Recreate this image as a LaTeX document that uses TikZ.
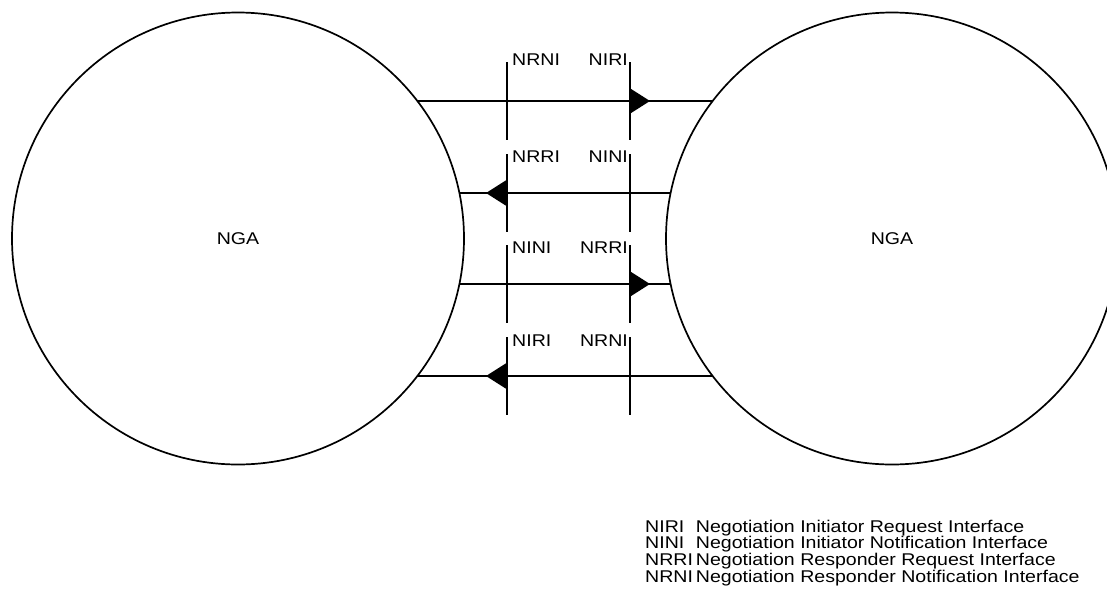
\documentclass[tikz,border=0pt]{standalone}
\usepackage{fontspec}
\setmainfont[FakeStretch=1.15]{Liberation Sans}
\usetikzlibrary{arrows.meta,decorations.markings,calc}

\tikzset{
	agent/.style={circle, draw, line width=1.7pt, minimum size=452pt, inner sep=0pt, outer sep=0pt, font=\fontsize{17}{20}\selectfont},
	iface/.style={line width=1.7pt},
	ilabel/.style={inner sep=0pt, font=\fontsize{17}{20}\selectfont},
	flow/.style={line width=1.7pt, postaction={decorate}, decoration={markings, mark=at position #1 with {\arrow{Triangle[length=20pt,width=25pt]}}}},
	legend/.style={inner sep=0pt, font=\fontsize{17}{14.6}\selectfont}
}

\begin{document}
\begin{tikzpicture}[x=1pt, y=-1pt]
		%%%%% START %%%%%
		\useasboundingbox (0, 0) rectangle (1107, 592);
		
		\node[agent] (ngaL) at (238, 238.5) {NGA};
		\node[agent] (ngaR) at (892, 238.5) {NGA};
		
		% interfaces on the left and right side
		\coordinate (a1) at (507, 62);  \coordinate (a2) at (507, 140);
		\coordinate (b1) at (630, 62);  \coordinate (b2) at (630, 140);
		\coordinate (a3) at (507, 154); \coordinate (a4) at (507, 232);
		\coordinate (b3) at (630, 154); \coordinate (b4) at (630, 232);
		\coordinate (a5) at (507, 245); \coordinate (a6) at (507, 323);
		\coordinate (b5) at (630, 245); \coordinate (b6) at (630, 323);
		\coordinate (a7) at (507, 337); \coordinate (a8) at (507, 415);
		\coordinate (b7) at (630, 337); \coordinate (b8) at (630, 415);
		
		\draw[iface] (a1) -- (a2);
		\draw[iface] (b1) -- (b2);
		\draw[iface] (a3) -- (a4);
		\draw[iface] (b3) -- (b4);
		\draw[iface] (a5) -- (a6);
		\draw[iface] (b5) -- (b6);
		\draw[iface] (a7) -- (a8);
		\draw[iface] (b7) -- (b8);
		
		\node[ilabel, anchor=base west] (nrniA) at (512, 65) {NRNI};
		\node[ilabel, anchor=base east] (niriA) at (628, 65) {NIRI};
		\node[ilabel, anchor=base west] (nrriB) at (512, 162) {NRRI};
		\node[ilabel, anchor=base east] (niniB) at (628, 162) {NINI};
		\node[ilabel, anchor=base west] (niniC) at (512, 253) {NINI};
		\node[ilabel, anchor=base east] (nrriC) at (628, 253) {NRRI};
		\node[ilabel, anchor=base west] (niriD) at (512, 346) {NIRI};
		\node[ilabel, anchor=base east] (nrniD) at (628, 346) {NRNI};
		
		% messages between the two agents
		\draw[flow=232.5pt] ($(ngaL)+(179.5,-137.5)$) -- ($(ngaR)+(-179.5,-137.5)$);
		\draw[flow=184.6pt] ($(ngaR)+(-221.4,-45.5)$) -- ($(ngaL)+(221.4,-45.5)$);
		\draw[flow=190.6pt] ($(ngaL)+(221.4,45.5)$) -- ($(ngaR)+(-221.4,45.5)$);
		\draw[flow=226.5pt] ($(ngaR)+(-179.5,137.5)$) -- ($(ngaL)+(179.5,137.5)$);
		
		\node[legend, anchor=base west] (key) at (645, 532) {%
			\begin{tabular}[t]{@{}l@{\hspace{3pt}}l@{}}
				NIRI & Negotiation Initiator Request Interface\\
				NINI & Negotiation Initiator Notification Interface\\
				NRRI & Negotiation Responder Request Interface\\
				NRNI & Negotiation Responder Notification Interface
			\end{tabular}};
		
		%%%%% END %%%%%
	\end{tikzpicture}
\end{document}
